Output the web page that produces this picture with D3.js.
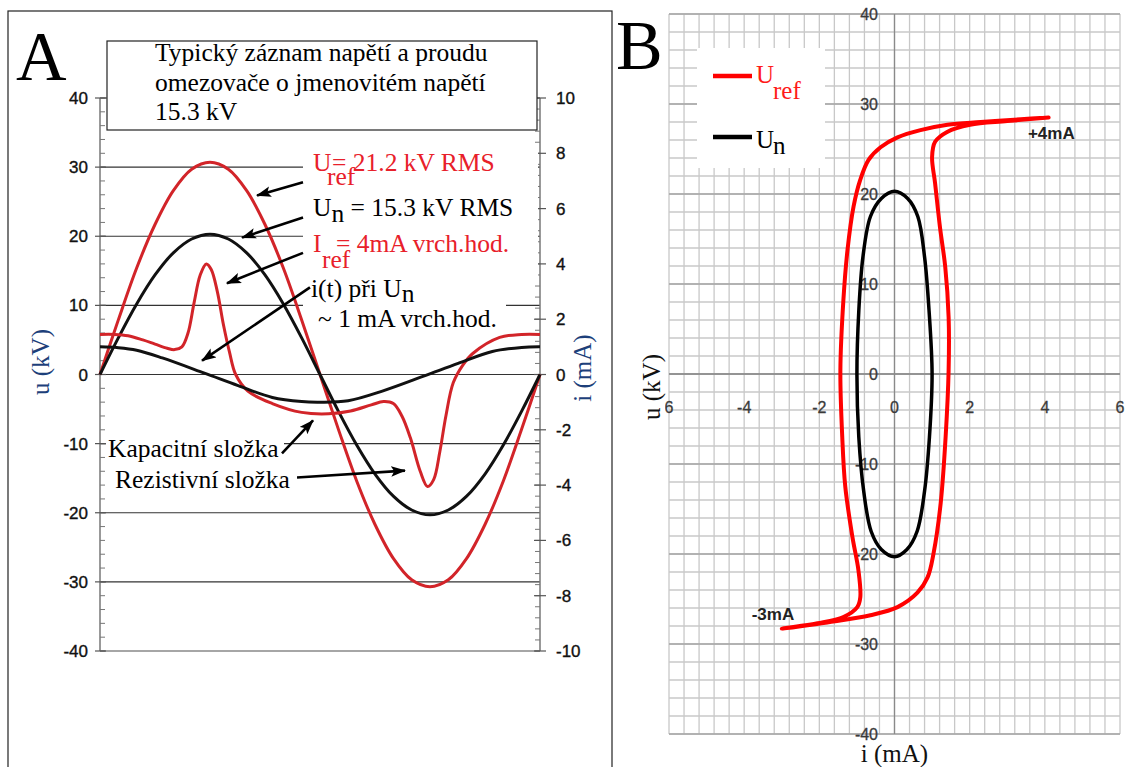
<!DOCTYPE html>
<html lang="cs">
<head>
<meta charset="UTF-8">
<title>Omezovač – u(t), i(t)</title>
<script src="https://d3js.org/d3.v7.min.js"></script>
<style>
  body { margin: 0; background: #fff; }
  .sans { font-family: "Liberation Sans", Arial, sans-serif; }
  .serif { font-family: "Liberation Serif", "Times New Roman", serif; }
  .tickA { font-size: 17px; fill: #111; stroke: #111; stroke-width: 0.35px; }
  .tickB { font-size: 16px; fill: #3a3a3a; stroke: #3a3a3a; stroke-width: 0.3px; }
  .note { font-size: 25.5px; }
</style>
</head>
<body>
<script>
// ---------- DATA, panel A (phase in degrees over one period) ----------
const phaseV = [0, 15, 30, 45, 60, 75, 90, 105, 120, 135, 150, 165, 180,
                195, 210, 225, 240, 255, 270, 285, 300, 315, 330, 345, 360];
const uRef = [0, 7.9, 15.4, 21.7, 26.6, 29.7, 30.7, 29.7, 26.6, 21.7, 15.4, 7.9, 0,
              -7.9, -15.4, -21.7, -26.6, -29.7, -30.7, -29.7, -26.6, -21.7, -15.4, -7.9, 0];
const uN = [0, 5.3, 10.2, 14.4, 17.6, 19.6, 20.3, 19.6, 17.6, 14.4, 10.2, 5.3, 0,
            -5.3, -10.2, -14.4, -17.6, -19.6, -20.3, -19.6, -17.6, -14.4, -10.2, -5.3, 0];

const phaseIRef = [0, 12, 23, 35, 45, 55, 61, 67, 72, 77, 82, 87, 91, 96, 101, 106, 111, 121,
                   141, 165, 187, 205, 222, 232, 240, 247, 254, 262, 268, 273, 278, 283, 289,
                   297, 305, 327, 345, 360];
const iRef = [1.45, 1.45, 1.4, 1.25, 1.1, 0.95, 0.9, 1.0, 1.5, 2.6, 3.6, 4.0, 3.8, 3.0, 1.8, 0.8, 0.0, -0.6,
              -1.05, -1.37, -1.42, -1.32, -1.1, -0.98, -1.05, -1.5, -2.3, -3.5, -4.05, -3.8, -2.8, -1.5, -0.3,
              0.35, 0.76, 1.34, 1.45, 1.45];

const phaseIN = [0, 15, 30, 51, 86, 113, 141, 165, 180, 203, 231, 266, 293, 321, 345, 360];
const iN = [1.0, 0.97, 0.88, 0.6, 0.04, -0.4, -0.83, -0.98, -1.0, -0.95, -0.6, -0.04, 0.4, 0.83, 0.98, 1.0];

const uTicksA = [-40, -30, -20, -10, 0, 10, 20, 30, 40];
const iTicksA = [-10, -8, -6, -4, -2, 0, 2, 4, 6, 8, 10];
const gridA = [-30, -20, -10, 0, 10, 20, 30];

// ---------- DATA, panel B (i in mA, u in kV) ----------
const loopRefI = [4.1, 3.36, 2.29, 1.41, 0.69, 0.08, -0.37, -0.69, -0.91, -1.09, -1.25, -1.36, -1.44,
                  -1.39, -1.31, -1.12, -0.96, -0.91, -0.99, -1.36, -2.05, -3.0,
                  -1.79, -0.64, 0.08, 0.61, 0.88, 1.04, 1.23, 1.36, 1.44, 1.44, 1.35, 1.21, 1.08,
                  1.0, 1.08, 1.4, 2.01, 3.0, 4.1];
const loopRefU = [28.5, 28.3, 28.0, 27.7, 27.1, 26.3, 25.2, 23.8, 21.6, 18.6, 13.8, 8.2, 0.4,
                  -7, -12.5, -18.1, -21.8, -24.8, -25.9, -27.0, -27.7, -28.3,
                  -27.6, -26.8, -25.9, -24.3, -22.6, -19.9, -14.3, -7, 0.4, 6.3, 11.9, 16.3, 21.2,
                  24.1, 25.8, 26.9, 27.7, 28.1, 28.5];

const loopNI = [0, 0.35, 0.62, 0.8, 0.92, 1.0, 0.93, 0.8, 0.6, 0.33, 0, -0.35, -0.62, -0.82, -0.95, -1.0, -0.95, -0.84, -0.64, -0.35];
const loopNU = [20.3, 19.5, 17.5, 13, 7, 0, -7, -13, -17.5, -19.5, -20.3, -19.5, -17.5, -13, -7, 0, 7, 13, 17.5, 19.5];

const iTicksB = [-4, -2, 0, 2, 4, 6];
const uTicksB = [-40, -30, -20, -10, 0, 10, 20, 30, 40];

// ---------- LAYOUT ----------
const W = 1126, H = 767;
const svg = d3.select("body").append("svg").attr("width", W).attr("height", H);

svg.append("defs").append("marker")
    .attr("id", "arr")
    .attr("viewBox", "0 0 14 10")
    .attr("refX", 13).attr("refY", 5)
    .attr("markerWidth", 15).attr("markerHeight", 11)
    .attr("markerUnits", "userSpaceOnUse")
    .attr("orient", "auto")
  .append("path").attr("d", "M0,0 L14,5 L0,10 L3,5 Z").attr("fill", "#000");

// ===== PANEL A =====
const xA = d3.scaleLinear().domain([0, 360]).range([100, 540]);
const yU = d3.scaleLinear().domain([-40, 40]).range([651, 98]);
const yI = d3.scaleLinear().domain([-10, 10]).range([651, 98]);

// frame
svg.append("rect").attr("x", 8).attr("y", 11).attr("width", 604).attr("height", 770)
    .attr("fill", "none").attr("stroke", "#222").attr("stroke-width", 1.2);

const gA = svg.append("g");

// gridlines
gA.selectAll(".grid").data(gridA).join("line")
    .attr("x1", 100).attr("x2", 540)
    .attr("y1", d => yU(d)).attr("y2", d => yU(d))
    .attr("stroke", "#333").attr("stroke-width", 1.1);
// plot border top/bottom
[-40, 40].forEach(v => gA.append("line").attr("x1", 100).attr("x2", 540)
    .attr("y1", yU(v)).attr("y2", yU(v)).attr("stroke", "#888").attr("stroke-width", 1.3));

// left axis
gA.append("line").attr("x1", 100).attr("x2", 100).attr("y1", yU(40)).attr("y2", yU(-40))
    .attr("stroke", "#777").attr("stroke-width", 1.5);
gA.selectAll(".mnL").data(d3.range(-40, 40.1, 2)).join("line")
    .attr("x1", 100).attr("x2", 105).attr("y1", d => yU(d)).attr("y2", d => yU(d))
    .attr("stroke", "#777");
gA.selectAll(".mjL").data(uTicksA).join("line")
    .attr("x1", 95).attr("x2", 106).attr("y1", d => yU(d)).attr("y2", d => yU(d))
    .attr("stroke", "#555").attr("stroke-width", 1.2);
gA.selectAll(".lbL").data(uTicksA).join("text")
    .attr("class", "sans tickA")
    .attr("x", 88).attr("y", d => yU(d) + 6)
    .attr("text-anchor", "end").text(d => d);

// right axis
gA.append("line").attr("x1", 540).attr("x2", 540).attr("y1", yI(10)).attr("y2", yI(-10))
    .attr("stroke", "#777").attr("stroke-width", 1.5);
gA.selectAll(".mnR").data(d3.range(-10, 10.01, 0.4)).join("line")
    .attr("x1", 535).attr("x2", 540).attr("y1", d => yI(d)).attr("y2", d => yI(d))
    .attr("stroke", "#777");
gA.selectAll(".mjR").data(iTicksA).join("line")
    .attr("x1", 534).attr("x2", 546).attr("y1", d => yI(d)).attr("y2", d => yI(d))
    .attr("stroke", "#555").attr("stroke-width", 1.2);
gA.selectAll(".lbR").data(iTicksA).join("text")
    .attr("class", "sans tickA")
    .attr("x", 556).attr("y", d => yI(d) + 6)
    .text(d => d);

// axis titles
gA.append("text").attr("class", "serif")
    .attr("transform", "translate(49,362) rotate(-90)")
    .attr("text-anchor", "middle").attr("font-size", 25).attr("fill", "#1d3f7a")
    .text("u (kV)");
gA.append("text").attr("class", "serif")
    .attr("transform", "translate(591,368) rotate(-90)")
    .attr("text-anchor", "middle").attr("font-size", 25).attr("fill", "#1d3f7a")
    .text("i (mA)");

// white backgrounds behind annotations
gA.append("rect").attr("x", 303).attr("y", 150).attr("width", 235).attr("height", 132).attr("fill", "#fff");
gA.append("rect").attr("x", 303).attr("y", 280).attr("width", 203).attr("height", 55).attr("fill", "#fff");
gA.append("rect").attr("x", 106).attr("y", 434).attr("width", 178).attr("height", 29).attr("fill", "#fff");
gA.append("rect").attr("x", 113).attr("y", 466).attr("width", 180).attr("height", 28).attr("fill", "#fff");

// curves
const lineA = y => d3.line().x(d => xA(d[0])).y(d => y(d[1])).curve(d3.curveCatmullRom.alpha(0.5));
const redA = "#d22429";
gA.append("path").attr("d", lineA(yU)(d3.zip(phaseV, uRef)))
    .attr("fill", "none").attr("stroke", redA).attr("stroke-width", 3);
gA.append("path").attr("d", lineA(yU)(d3.zip(phaseV, uN)))
    .attr("fill", "none").attr("stroke", "#111").attr("stroke-width", 3);
gA.append("path").attr("d", lineA(yI)(d3.zip(phaseIRef, iRef)))
    .attr("fill", "none").attr("stroke", redA).attr("stroke-width", 3);
gA.append("path").attr("d", lineA(yI)(d3.zip(phaseIN, iN)))
    .attr("fill", "none").attr("stroke", "#111").attr("stroke-width", 3);

// title box
gA.append("rect").attr("x", 107).attr("y", 41).attr("width", 430).attr("height", 89)
    .attr("fill", "#fff").attr("stroke", "#222").attr("stroke-width", 1.2);
const titleLines = ["Typický záznam napětí a proudu", "omezovače o jmenovitém napětí", "15.3 kV"];
gA.selectAll(".ttl").data(titleLines).join("text")
    .attr("class", "serif").attr("font-size", 25.5).attr("fill", "#000")
    .attr("x", 155).attr("y", (d, i) => 61 + i * 29.5).text(d => d);

// annotations (subscripts kept as tspans of the same text)
const redT = "#e8202a";
const n1 = gA.append("text").attr("class", "serif note").attr("fill", redT).attr("x", 313).attr("y", 171);
n1.append("tspan").text("U");
n1.append("tspan").attr("x", 327).attr("dy", 14).text("ref");
n1.append("tspan").attr("x", 332).attr("dy", -14).text("= 21.2 kV RMS");

const n2 = gA.append("text").attr("class", "serif note").attr("fill", "#000").attr("x", 313).attr("y", 216);
n2.append("tspan").text("U");
n2.append("tspan").attr("dy", 6).text("n");
n2.append("tspan").attr("dy", -6).text(" = 15.3 kV RMS");

const n3 = gA.append("text").attr("class", "serif note").attr("fill", redT).attr("x", 313).attr("y", 252);
n3.append("tspan").text("I");
n3.append("tspan").attr("x", 322).attr("dy", 16).text("ref");
n3.append("tspan").attr("x", 336).attr("dy", -16).text("= 4mA vrch.hod.");

const n4 = gA.append("text").attr("class", "serif note").attr("fill", "#000").attr("x", 311).attr("y", 297);
n4.append("tspan").text("i(t) při U");
n4.append("tspan").attr("dy", 5).text("n");
gA.append("text").attr("class", "serif note").attr("fill", "#000").attr("x", 318).attr("y", 327)
    .text("~ 1 mA vrch.hod.");

gA.append("text").attr("class", "serif note").attr("fill", "#000").attr("x", 108).attr("y", 457)
    .text("Kapacitní složka");
gA.append("text").attr("class", "serif note").attr("fill", "#000").attr("x", 115).attr("y", 488)
    .text("Rezistivní složka");

// arrows, in (phase, kV) units
const arrowsA = [
  [[166.1, 27.8], [128.5, 25.9]],
  [[166.1, 22.7], [116.2, 19.8]],
  [[166.1, 17.6], [103.9, 13.2]],
  [[171.8, 12.6], [83.5, 2.0]],
  [[148.9, -11.4], [174.3, -6.65]],
  [[161.2, -14.9], [249.5, -13.9]]
];
gA.selectAll(".arw").data(arrowsA).join("line")
    .attr("x1", d => xA(d[0][0])).attr("y1", d => yU(d[0][1]))
    .attr("x2", d => xA(d[1][0])).attr("y2", d => yU(d[1][1]))
    .attr("stroke", "#000").attr("stroke-width", 2.6)
    .attr("marker-end", "url(#arr)");

// letter A
svg.append("text").attr("class", "serif").attr("font-size", 70).attr("x", 16).attr("y", 80).text("A");

// ===== PANEL B =====
const xB = d3.scaleLinear().domain([-6, 6]).range([669, 1120]);
const yB = d3.scaleLinear().domain([-40, 40]).range([734, 14]);
const gB = svg.append("g");

gB.selectAll(".vg").data(d3.range(-6, 6.01, 0.4)).join("line")
    .attr("x1", d => xB(d)).attr("x2", d => xB(d)).attr("y1", yB(40)).attr("y2", yB(-40))
    .attr("stroke", "#c8c8c8").attr("stroke-width", 1.3);
gB.selectAll(".hg").data(d3.range(-40, 40.1, 2)).join("line")
    .attr("x1", xB(-6)).attr("x2", xB(6)).attr("y1", d => yB(d)).attr("y2", d => yB(d))
    .attr("stroke", "#c8c8c8").attr("stroke-width", 1.3);
gB.selectAll(".hm").data(uTicksB).join("line")
    .attr("x1", xB(-6)).attr("x2", xB(6)).attr("y1", d => yB(d)).attr("y2", d => yB(d))
    .attr("stroke", "#a6a6a6").attr("stroke-width", 1.3);
gB.append("line").attr("x1", xB(0)).attr("x2", xB(0)).attr("y1", yB(40)).attr("y2", yB(-40))
    .attr("stroke", "#8a8a8a").attr("stroke-width", 1.3);
gB.append("line").attr("x1", xB(-6)).attr("x2", xB(6)).attr("y1", yB(0)).attr("y2", yB(0))
    .attr("stroke", "#8a8a8a").attr("stroke-width", 1.3);

// tick labels
gB.selectAll(".lbx").data(iTicksB).join("text")
    .attr("class", "sans tickB").attr("text-anchor", "middle")
    .attr("x", d => xB(d)).attr("y", 413).text(d => d);
gB.append("text").attr("class", "sans tickB").attr("text-anchor", "middle")
    .attr("x", xB(-6)).attr("y", 413).text("6");
gB.selectAll(".lby").data(uTicksB).join("text")
    .attr("class", "sans tickB").attr("text-anchor", "end")
    .attr("x", 878).attr("y", d => yB(d) + 6).text(d => d);

// legend
gB.append("rect").attr("x", 697).attr("y", 48).attr("width", 128).attr("height", 120).attr("fill", "#fff");
gB.append("line").attr("x1", 713).attr("x2", 752).attr("y1", 76).attr("y2", 76)
    .attr("stroke", "#ff0000").attr("stroke-width", 4.5);
const lg1 = gB.append("text").attr("class", "serif").attr("font-size", 25).attr("fill", "#ff1a1a")
    .attr("x", 756).attr("y", 83);
lg1.append("tspan").text("U");
lg1.append("tspan").attr("x", 773).attr("dy", 16).text("ref");
gB.append("line").attr("x1", 713).attr("x2", 752).attr("y1", 137).attr("y2", 137)
    .attr("stroke", "#000").attr("stroke-width", 4.5);
const lg2 = gB.append("text").attr("class", "serif").attr("font-size", 25).attr("fill", "#000")
    .attr("x", 756).attr("y", 148);
lg2.append("tspan").text("U");
lg2.append("tspan").attr("x", 773).attr("dy", 6).text("n");

// loops
const lineB = d3.line().x(d => xB(d[0])).y(d => yB(d[1]));
gB.append("path").attr("d", lineB.curve(d3.curveCatmullRomClosed.alpha(0.5))(d3.zip(loopNI, loopNU)))
    .attr("fill", "none").attr("stroke", "#000").attr("stroke-width", 3.5);
gB.append("path").attr("d", lineB.curve(d3.curveCatmullRom.alpha(0.5))(d3.zip(loopRefI, loopRefU)))
    .attr("fill", "none").attr("stroke", "#ff0000").attr("stroke-width", 4)
    .attr("stroke-linejoin", "round").attr("stroke-linecap", "round");

gB.append("text").attr("class", "sans").attr("font-size", 17).attr("font-weight", "bold").attr("fill", "#222")
    .attr("x", xB(3.55)).attr("y", yB(26.1)).text("+4mA");
gB.append("text").attr("class", "sans").attr("font-size", 17).attr("font-weight", "bold").attr("fill", "#222")
    .attr("x", xB(-3.8)).attr("y", yB(-27.3)).text("-3mA");

// axis titles
gB.append("rect").attr("x", 640).attr("y", 345).attr("width", 25).attr("height", 80).attr("fill", "#fff");
gB.append("text").attr("class", "serif").attr("font-size", 25).attr("fill", "#111")
    .attr("text-anchor", "middle").attr("transform", "translate(660,387) rotate(-90)").text("u (kV)");
gB.append("text").attr("class", "serif").attr("font-size", 25).attr("fill", "#111")
    .attr("text-anchor", "middle").attr("x", xB(0)).attr("y", 762).text("i (mA)");

// letter B
svg.append("text").attr("class", "serif").attr("font-size", 70).attr("x", 616).attr("y", 69).text("B");
</script>
</body>
</html>
